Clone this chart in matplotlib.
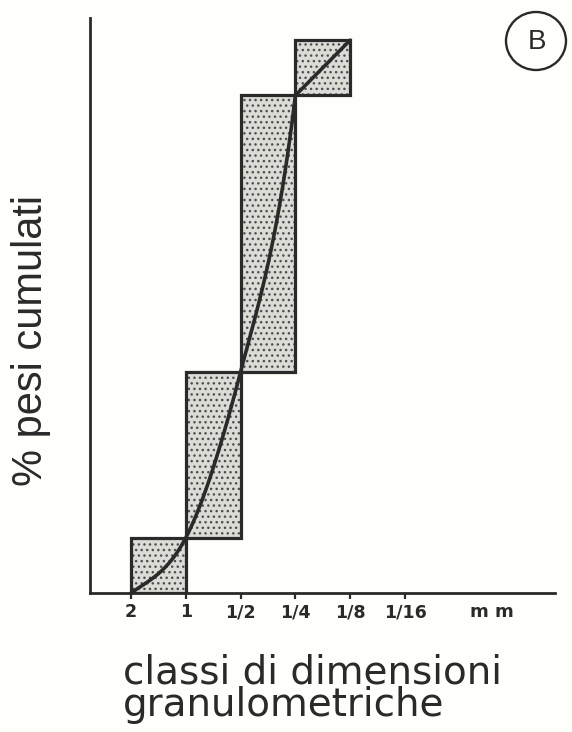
import numpy as np
import matplotlib
matplotlib.use("Agg")
import matplotlib.pyplot as plt
from matplotlib.patches import Ellipse

# size classes (mm) and weight % per class
classes = ["2", "1", "1/2", "1/4", "1/8", "1/16"]
weights = [10, 30, 50, 10]
# slope of the hand-drawn curve at each class boundary (% per class)
curve_slopes = [7, 19, 38, 82]

INK = "#2a2a2a"
BG = "#fefefb"

cumulative = np.concatenate([[0], np.cumsum(weights)])
xpos = np.arange(len(classes))

fig = plt.figure(figsize=(5.72, 7.32), dpi=100, facecolor=BG)
ax = fig.add_axes([90 / 572, 139 / 732, 465 / 572, 575 / 732])
ax.set_facecolor(BG)

# stippled blocks, then their outlines
ax.bar(xpos[:-2], weights, width=1, bottom=cumulative[:-1], align="edge",
       facecolor="#dcdcd7", edgecolor="#4e4e4e", linewidth=0, hatch="...", zorder=1)
ax.bar(xpos[:-2], weights, width=1, bottom=cumulative[:-1], align="edge",
       fill=False, edgecolor=INK, linewidth=2.3, zorder=3)

# cumulative curve: cubic hermite pieces through the block corners, last piece straight
xs, ys = [], []
for i in range(len(curve_slopes) - 1):
    t = np.linspace(0, 1, 40)
    h00 = 2 * t**3 - 3 * t**2 + 1
    h10 = t**3 - 2 * t**2 + t
    h01 = -2 * t**3 + 3 * t**2
    h11 = t**3 - t**2
    xs.append(xpos[i] + t)
    ys.append(h00 * cumulative[i] + h10 * curve_slopes[i]
              + h01 * cumulative[i + 1] + h11 * curve_slopes[i + 1])
xs.append([xpos[3], xpos[4]])
ys.append([cumulative[3], cumulative[4]])
ax.plot(np.concatenate(xs), np.concatenate(ys), color=INK, linewidth=2.6,
        solid_capstyle="round", zorder=4)

ax.set_xlim(-0.748, 7.737)
ax.set_ylim(0, 104)
for s in ["top", "right"]:
    ax.spines[s].set_visible(False)
for s in ["left", "bottom"]:
    ax.spines[s].set_linewidth(2)
    ax.spines[s].set_color(INK)
ax.set_yticks([])
ax.set_xticks(xpos)
ax.set_xticklabels(classes, fontsize=12.5, fontweight="bold", color=INK,
                   family="DejaVu Sans")
ax.tick_params(axis="x", direction="out", length=4.5, width=1.6, color=INK, pad=3)
ax.text(6.59, -3.4, "m m", fontsize=13, fontweight="bold", color=INK,
        ha="center", va="center")

fig.text(31 / 572, 1 - 340 / 732, "% pesi cumulati", rotation=90, fontsize=30,
         family="Liberation Sans", color=INK, ha="center", va="center")
fig.text(123 / 572, 1 - 716 / 732, "classi di dimensioni\ngranulometriche",
         fontsize=28, family="DejaVu Sans", color=INK, ha="left", va="baseline",
         linespacing=0.8)

fig.patches.append(Ellipse((536 / 572, 1 - 41 / 732), 60 / 572, 58 / 732,
                           transform=fig.transFigure, fill=False,
                           edgecolor=INK, linewidth=1.7))
fig.text(537 / 572, 1 - 42 / 732, "B", fontsize=20, family="Liberation Sans",
         color=INK, ha="center", va="center")

fig.savefig("out.png", dpi=100, facecolor=BG)
